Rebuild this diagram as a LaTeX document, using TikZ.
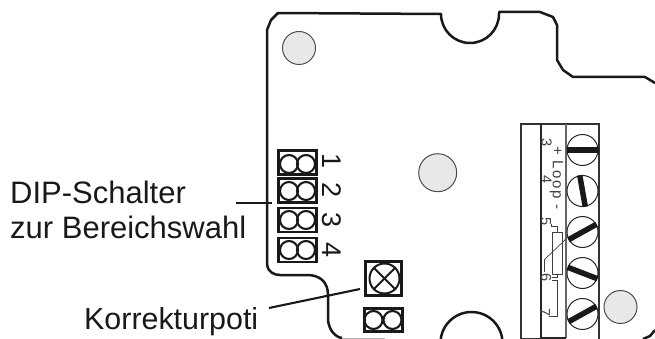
\documentclass[tikz,border=0pt]{standalone}
\usepackage{fontspec}
\setmainfont{Liberation Sans}
\newfontfamily\loopfont[LetterSpace=10]{Liberation Sans}
\tikzset{
  board/.style={draw=black!90, line width=2.5pt, line join=round},
  hole/.style={draw=black!70, circle, fill=black!9, line width=1pt, inner sep=0pt},
  dipbox/.style={draw=black!90, line width=2.8pt, minimum width=38pt, minimum height=24pt, inner sep=0pt},
  ring/.style={draw=black!90, circle, line width=2.1pt, minimum size=18pt, inner sep=0pt},
  screw/.style={draw=black!85, circle, line width=1pt, minimum size=31pt, inner sep=0pt},
  slot/.style={line width=5.5pt, black!90},
  leader/.style={line width=2.1pt, black!90},
  label/.style={anchor=base west, inner sep=0pt, font=\fontsize{31}{35}\selectfont, text=black!90},
  digit/.style={rotate=-90, inner sep=0pt, font=\fontsize{27}{30}\selectfont, text=black!90},
  smalldigit/.style={rotate=-90, inner sep=0pt, font=\fontsize{14.5}{16}\selectfont, text=black!75},
  thin/.style={line width=0.7pt, black!75},
}
\begin{document}
\begin{tikzpicture}[x=1pt, y=-1pt]
  \useasboundingbox (0,0) rectangle (655,339);
  % board outline
  \draw[board] (267,265) -- (267,30) -- (271,20) -- (278,13) -- (441,14) arc (180:0:29) -- (499,12) -- (540,12) -- (553,17) -- (557,25) -- (557,60) -- (563,70) -- (573,77) -- (645,77) -- (655,83);
  \draw[board] (267,265) .. controls (268,272) and (274,275) .. (280,275) -- (307,275) .. controls (320,275) and (328,282) .. (328,295) -- (328,320) .. controls (329,330) and (335,337) .. (342,338);
  \draw[line width=0.8pt, black!30] (342,338) -- (385,338);
  \draw[board] (440.5,343) arc (180:360:31);
  \draw[board] (643,339) -- (650,336) -- (655,330);
  % mounting holes
  \node[hole, minimum size=33pt] (holeA) at (299,48) {};
  \node[hole, minimum size=38pt] (holeB) at (437.7,172.7) {};
  \node[hole, minimum size=33pt] (holeC) at (620.5,307) {};
  % dip switches
  \node[dipbox] (dipA) at (297.5,162.5) {};
  \node[dipbox] (dipB) at (297.5,190.5) {};
  \node[dipbox] (dipC) at (297.5,220) {};
  \node[dipbox] (dipD) at (297.5,250) {};
  \node[ring] at (289,164) {};
  \node[ring] at (306,164) {};
  \node[ring] at (289,191) {};
  \node[ring] at (306,191) {};
  \node[ring] at (289,220) {};
  \node[ring] at (306,220) {};
  \node[ring] at (289,250) {};
  \node[ring] at (306,250) {};
  \node[digit] (numA) at (332,161) {1};
  \node[digit] (numB) at (332,190) {2};
  \node[digit] (numC) at (332,220) {3};
  \node[digit] (numD) at (332,250) {4};
  % poti
  \node[dipbox, minimum width=36pt, minimum height=34pt] (potiBox) at (383.5,278.5) {};
  \node[draw=black!90, circle, line width=2pt, minimum size=30pt, inner sep=0pt] (poti) at (384.5,278.5) {};
  \draw[line width=1.8pt, black!90] (poti.45) -- (poti.225);
  \draw[line width=1.8pt, black!90] (poti.135) -- (poti.315);
  \node[dipbox, minimum width=38pt, minimum height=23pt] (jumper) at (383.5,320) {};
  \node[ring] at (373.5,320) {};
  \node[ring] at (392.5,320) {};
  % terminal strip
  \draw[line width=1.1pt, black!80] (541,339) -- (521,339) -- (521,124) -- (599,124) -- (599,339);
  \draw[line width=1.1pt, black!60] (566,124) -- (566,338);
  \draw[line width=1.8pt, black!85] (541,124) -- (541,338) -- (566,338);
  \node[screw] (screwA) at (582.5,150) {};
  \node[screw] (screwB) at (582.5,191) {};
  \node[screw] (screwC) at (582.5,232) {};
  \node[screw] (screwD) at (582.5,273) {};
  \node[screw] (screwE) at (582.5,314) {};
  \draw[slot] (screwA.180) -- (screwA.0);
  \draw[slot] (screwB.100) -- (screwB.280);
  \draw[slot] (screwC.209) -- (screwC.29);
  \draw[slot] (screwD.159) -- (screwD.339);
  \draw[slot] (screwE.209) -- (screwE.29);
  \node[smalldigit] (termA) at (546.5,143) {3};
  \node[smalldigit] (termB) at (546.5,180) {4};
  \node[smalldigit] (termC) at (546,222) {5};
  \node[smalldigit] (termD) at (546,278) {6};
  \node[smalldigit] (termE) at (545,313) {7};
  \node[rotate=-90, inner sep=0pt, text=black!75, font=\loopfont\fontsize{15}{17}\selectfont] (loop) at (556.5,178) {+ Loop -};
  \node[draw=black!75, line width=0.7pt, minimum width=10pt, minimum height=42pt, inner sep=0pt] (resistor) at (557,253) {};
  \draw[thin] (551,224) -- (551,226) -- (557,226) -- (resistor.north);
  \draw[thin] (resistor.south) -- (557,277) -- (552,277);
  \draw[thin] (544,260) -- (566,239);
  \draw[thin] (544,260) -- (544,272);
  \draw[thin] (552,280) -- (557,280) -- (557,316) -- (549,316);
  % labels
  \node[label] (dipText) at (10,203) {DIP-Schalter};
  \node[label] (rangeText) at (10,238) {zur Bereichswahl};
  \node[label, font=\fontsize{30.4}{35}\selectfont] (potiText) at (84,329) {Korrekturpoti};
  \coordinate (dipLeft) at (236,203);
  \coordinate (dipRight) at (272,203);
  \coordinate (potiLeft) at (269,308);
  \coordinate (potiRight) at (360,289);
  \draw[leader] (dipLeft) -- (dipRight);
  \draw[leader] (potiLeft) -- (potiRight);
\end{tikzpicture}
\end{document}
